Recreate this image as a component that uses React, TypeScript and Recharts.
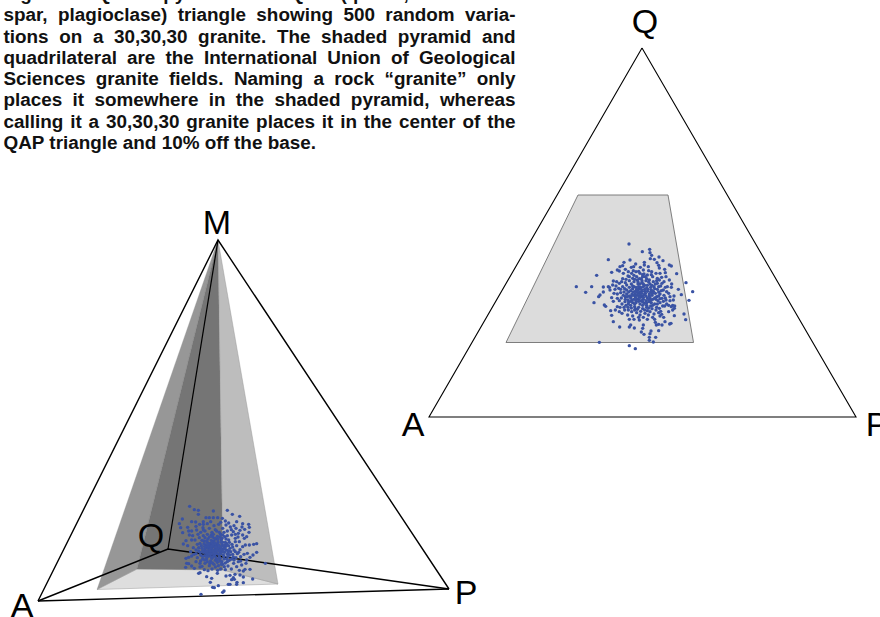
import React from "react";
import { ScatterChart, Scatter, XAxis, YAxis } from "recharts";

const captionLines = [
  "Figure 4. QAPM pyramid and QAP (quartz, alkali feld-",
  "spar, plagioclase) triangle showing 500 random varia-",
  "tions on a 30,30,30 granite. The shaded pyramid and",
  "quadrilateral are the International Union of Geological",
  "Sciences granite fields. Naming a rock “granite” only",
  "places it somewhere in the shaded pyramid, whereas",
  "calling it a 30,30,30 granite places it in the center of the",
];
const captionLast = "QAP triangle and 10% off the base.";

const pt = (x: number, y: number) => ({ x, y });

// Ternary diagram (right)
const triangleQAP = [pt(642, 48), pt(856, 417), pt(429, 417)];
const graniteField = [pt(578, 195), pt(668, 195), pt(693.5, 342.5), pt(506, 342.5)];

// Tetrahedron (left)
const tetraOutline = [pt(38, 601), pt(218, 240), pt(449, 589)];
const tetraBase = [pt(38, 601), pt(449, 589)];
const tetraInner = [pt(38, 601), pt(168, 549), pt(449, 589)];
const tetraSpine = [pt(218, 240), pt(168, 549)];
const pyramidFloor = [pt(97, 589.5), pt(137, 569), pt(223, 570), pt(278, 584)];
const pyramidLeft = [pt(218, 240), pt(97, 589.5), pt(137, 569)];
const pyramidBack = [pt(218, 240), pt(137, 569), pt(223, 570)];
const pyramidRight = [pt(218, 240), pt(223, 570), pt(278, 584)];

const vertexLabels = [
  { x: 217, y: 234, name: "M" },
  { x: 151, y: 547, name: "Q" },
  { x: 22, y: 617, name: "A" },
  { x: 466, y: 604, name: "P" },
  { x: 645, y: 33, name: "Q" },
  { x: 413, y: 436, name: "A" },
  { x: 877, y: 436, name: "P" },
];

const rightCrop: [number, number][] = [
  [207,42],[269,58],[247,65],[270,68],[275,76],[271,86],[297,81],[283,88],[309,92],[291,98],[296,106],[145,89],[210,90],[192,97],[227,102],[253,97],[253,105],[328,105],[334,108],[298,114],[314,118],[265,110],[241,112],[221,110],[214,112],[188,107],[180,110],[172,120],[178,123],[155,127],[110,136],[275,125],[350,131],[378,158],[398,185],[387,211],[355,178],[364,194],[49,170],[77,187],[95,170],[130,171],[130,186],[102,218],[116,200],[120,195],[145,170],[150,180],[133,225],[137,229],[152,242],[155,256],[160,275],[179,291],[208,291],[212,285],[223,294],[250,285],[248,295],[244,306],[252,313],[268,322],[273,303],[270,311],[287,322],[268,331],[280,336],[296,302],[118,337],[208,347],[226,356],[372,252],[377,269],[343,257],[329,282],[333,280],[315,275],[306,285],[296,283],[289,285],[286,277],[300,258],[311,262],[305,253],[326,245],[343,235],[338,226],[334,230],[344,228],[338,240],
  [160,153],[170,155],[158,165],[168,168],[178,160],[185,155],[148,172],[165,178],[176,175],[188,170],[155,203],[162,190],[172,192],[182,188],[160,214],[172,230],[180,232],[178,245],[186,250],[203,255],[218,258],[222,268],[238,270],[262,268],[265,255],[278,262],[215,130],[228,125],[240,130],[205,125],[196,118],[230,140],[218,145],[208,152],[250,120],[262,135],[278,140],[292,145],[305,142],[318,140],[328,150],[335,162],[312,155],[322,170],[334,172],[320,185],[342,198],[330,200],[318,210],[330,212],[340,210],[320,222],[308,228],[298,235],[288,240],[282,252],[270,245],[255,250],[240,255],[230,248],[215,245],[205,240],[192,232],[186,222],[195,215],[205,222],
  [200,165],[208,172],[214,162],[222,155],[232,150],[244,146],[256,140],[268,150],[280,155],[292,160],[302,168],[310,180],[300,192],[306,205],[294,212],[284,222],[272,228],[260,232],[248,236],[236,232],[224,230],[212,226],[204,210],[196,200],[192,186],[200,180],[212,182],[222,170],[234,162],[246,158],[258,152],[270,162],[282,170],[292,178],[286,190],[290,200],[278,208],[268,215],[254,220],[240,222],[228,218],[216,210],[208,198],[216,192],[226,184],[238,176],[250,170],[262,166],[274,180],[264,178],[276,196],[262,204],[250,208],[236,208],[226,200],[236,190],[246,184],[256,190],[246,198],[222,208],[232,196],[242,172],[254,178],[268,192],[280,184],[240,162],[228,172],[218,176],[212,204],[200,192],[244,212],[258,212],[270,204],[292,222],[300,218],[204,232],[218,218],[232,238],[248,226],[262,242],[276,236],[224,240],[198,148],[188,146],[242,202],[252,194],[234,180],[226,192],[262,184],[272,172],[286,162],[298,150],[312,196],[296,186],[238,146],[252,132],[266,122],
  [194,176],[206,186],[218,168],[230,178],[240,186],[250,162],[260,174],[272,186],[284,176],[296,170],[306,160],[316,172],[304,182],[296,198],[284,204],[272,210],[260,218],[248,216],[236,214],[224,222],[214,198],[206,216],[198,226],[220,186],[230,206],[240,196],[250,202],[258,198],[268,198],[278,190],[288,208],[300,206],[310,214],[314,228],[302,244],[290,232],[278,226],[266,234],[254,240],[242,244],[226,236],[214,234],[196,208],[184,204],[178,212],[190,196],[182,178],[196,158],[208,140],[222,136],[236,124],[248,134],[260,146],[274,134],[288,130],[300,130],[316,128],[326,190],[316,204],[326,226],[296,248],[284,268],[250,262],[236,262],[208,268],[194,240],[166,240],[172,205],[224,148],[234,156],[246,152],[254,166],[266,156],[276,166],[290,152],[244,178],[232,186],[222,196],[238,200],[254,184],[266,210],[212,214],[202,200],[244,190],[228,212],[260,226],[274,218],[236,170],[248,140],[220,122],[204,138],[190,130]
];

const leftCrop: [number, number][] = [
  [299,34],[313,44],[325,46],[325,58],[370,48],[412,46],[427,58],[397,70],[449,64],[277,72],[305,80],[317,81],[348,68],[358,68],[370,68],[383,68],[268,86],[272,98],[293,97],[278,113],[296,108],[305,108],[329,88],[340,88],[339,98],[352,86],[406,78],[440,80],[458,86],[476,88],[478,97],[438,100],[464,103],[421,96],[477,112],[458,120],[470,125],[463,130],[445,115],[430,110],[408,90],[288,137],[280,147],[293,152],[305,135],[500,146],[491,148],[478,150],[466,150],[458,155],[500,172],[489,180],[472,175],[480,187],[470,195],[526,205],[296,187],[288,190],[305,183],[290,205],[296,206],[287,217],[305,213],[313,220],[330,216],[343,224],[326,235],[330,233],[354,227],[383,226],[382,235],[350,245],[365,250],[361,262],[385,272],[368,277],[373,278],[402,288],[398,292],[333,298],[415,268],[408,243],[420,241],[435,238],[430,248],[433,253],[425,254],[441,262],[420,268],[440,268],[460,263],[450,240],[460,246],[488,252],[465,223],[480,223],[440,215],[455,210],[468,205],[445,200],[431,205],[414,213],[403,215],
  [320,105],[332,112],[345,108],[358,100],[372,92],[386,88],[398,100],[412,108],[425,120],[436,130],[448,140],[440,152],[432,165],[446,172],[452,185],[438,188],[425,192],[412,200],[398,208],[385,212],[372,208],[358,212],[345,205],[332,198],[322,188],[312,178],[318,165],[310,158],[322,148],[315,135],[328,128],[340,122],[352,118],[366,112],[380,108],[392,118],[404,125],[416,135],[426,148],[420,160],[428,178],[414,185],[402,192],[390,198],[376,196],[362,198],[350,192],[338,184],[330,172],[336,160],[330,145],[342,138],[354,132],[368,126],[382,124],[394,134],[406,142],[416,152],[408,165],[414,175],[400,180],[388,186],[374,182],[362,184],[350,176],[344,165],[348,150],[360,145],[372,138],[384,140],[396,150],[400,162],[390,170],[378,172],[366,170],[356,160],[368,155],[380,152],[388,160],[376,162],[362,148],[352,142],[392,176],[404,172],[340,172],[372,148],[384,166],[372,178],[358,172],[398,142],[412,122],[424,104],[436,118],[344,195],[330,205],[360,205],[396,200],[410,192],[436,140],[324,118],[340,105],[364,120],[378,132],[390,126],[402,112],[352,158],[366,162],[380,176],[394,164],[408,154],[345,128],[420,180],[432,195],
  [326,158],[334,152],[342,146],[350,138],[358,126],[370,118],[376,104],[388,112],[398,120],[408,132],[418,142],[428,156],[422,170],[412,166],[404,150],[394,142],[384,132],[374,130],[364,136],[356,152],[346,158],[338,168],[332,180],[344,182],[354,184],[366,190],[378,188],[390,190],[402,184],[412,178],[396,170],[386,178],[376,168],[364,176],[354,168],[362,160],[372,154],[382,146],[392,156],[400,170],[384,158],[374,144],[366,142],[380,160],[368,166],[358,178],[348,184],[338,192],[352,200],[368,204],[382,202],[394,208],[406,204],[418,196],[430,186],[442,176],[450,164],[436,170],[444,126],[450,106],[456,96],[432,92],[416,84],[392,82],[362,80],[340,80],[318,94],[308,122],[298,120],[302,170],[318,200],[336,214],[366,222],[376,216],[392,222],[406,224],[424,222],[448,226],[460,228],[452,198],[462,178],[396,130],[410,146],[386,150],[360,168],[370,184],[382,194],[346,172],[336,136],[326,168],[318,176],[404,160],[416,168],[392,164],[378,156],[368,148],[356,146],[344,154],[350,168],[364,154],[388,168],[374,174],[400,154]
];

const rightDots = rightCrop.map(([a, b]) => pt(560 + a / 3, 230 + b / 3));
const leftDots = leftCrop.map(([a, b]) => pt(90 + a / 3, 495 + b / 3));

const nothing = () => <g />;

const polygon = (fill: string, stroke: string, strokeWidth: number) => (p: any) =>
  (
    <polygon
      points={p.points.map((q: any) => `${q.x},${q.y}`).join(" ")}
      fill={fill}
      stroke={stroke}
      strokeWidth={strokeWidth}
      strokeLinejoin="miter"
    />
  );

const polyline = (strokeWidth: number) => (p: any) =>
  (
    <polyline
      points={p.points.map((q: any) => `${q.x},${q.y}`).join(" ")}
      fill="none"
      stroke="#000"
      strokeWidth={strokeWidth}
    />
  );

const dot = (p: any) => <circle cx={p.cx} cy={p.cy} r={1.7} fill="#3a53a4" />;

const vertexText = (p: any) => (
  <text
    x={p.cx}
    y={p.cy}
    textAnchor="middle"
    fontFamily="Liberation Sans"
    fontSize={34}
    fill="#000"
  >
    {p.payload?.name ?? p.name}
  </text>
);

const polys: [typeof pyramidFloor, string, string, number][] = [
  [pyramidFloor, "#dedede", "#a8a8a8", 0.6],
  [pyramidLeft, "#979797", "#979797", 0.3],
  [pyramidBack, "#757575", "#757575", 0.3],
  [pyramidRight, "#bdbdbd", "#8f8f8f", 0.4],
  [graniteField, "#dcdcdc", "#707070", 0.9],
];

const lines: [typeof tetraBase, number][] = [
  [triangleQAP.concat(triangleQAP[0]), 1.1],
  [tetraOutline, 1.4],
  [tetraBase, 1.4],
  [tetraInner, 1.4],
  [tetraSpine, 1.2],
];

export default function App() {
  return (
    <div style={{ position: "absolute", left: 0, top: 0, width: 880, height: 617, overflow: "hidden", background: "#fff" }}>
      <ScatterChart width={880} height={617} margin={{ top: 0, right: 0, bottom: 0, left: 0 }}>
        <XAxis type="number" dataKey="x" domain={[0, 880]} hide />
        <YAxis type="number" dataKey="y" domain={[0, 617]} reversed hide />
        {polys.map(([d, f, s, w], i) => (
          <Scatter key={"p" + i} data={d} isAnimationActive={false} shape={nothing} line={polygon(f, s, w)} />
        ))}
        {lines.map(([d, w], i) => (
          <Scatter key={"l" + i} data={d} isAnimationActive={false} shape={nothing} line={polyline(w)} />
        ))}
        <Scatter data={rightDots} isAnimationActive={false} shape={dot} />
        <Scatter data={leftDots} isAnimationActive={false} shape={dot} />
        <Scatter data={vertexLabels} isAnimationActive={false} shape={vertexText} />
      </ScatterChart>
      <div
        style={{
          position: "absolute",
          left: 3.5,
          top: -17,
          width: 512,
          fontFamily: "Liberation Sans",
          fontWeight: 700,
          fontSize: 18.9,
          lineHeight: "21.3px",
          color: "#111",
        }}
      >
        {captionLines.map((l, i) => (
          <div key={i} style={{ textAlign: "justify", textAlignLast: "justify" }}>
            {l}
          </div>
        ))}
        <div>{captionLast}</div>
      </div>
    </div>
  );
}
